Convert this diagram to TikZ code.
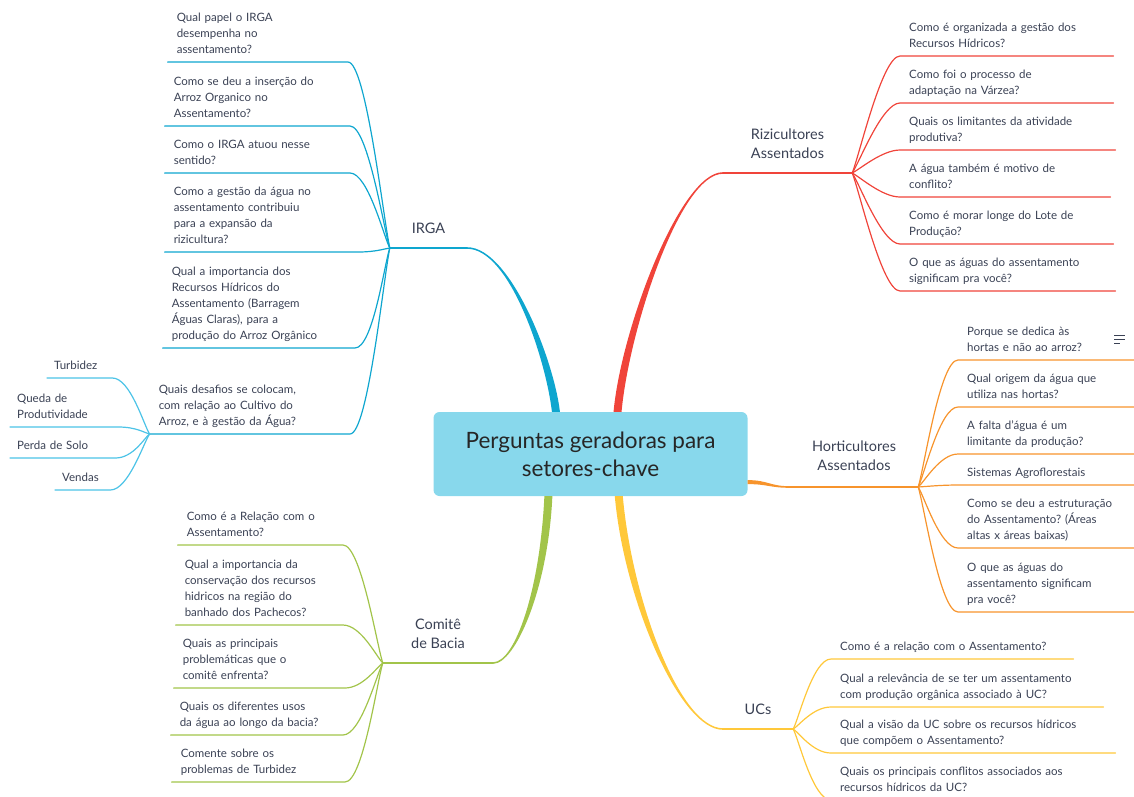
\documentclass[tikz,border=0pt]{standalone}
\usepackage{fontspec}
\setmainfont{Lato}
\usepackage{xcolor}
\usepackage{tikz}
\usetikzlibrary{calc}
\frenchspacing

\definecolor{rootfill}{HTML}{88D8EC}
\definecolor{inktext}{HTML}{3A4154}
\definecolor{cblue}{HTML}{0EA6CF}
\definecolor{clight}{HTML}{4CC3E7}
\definecolor{cred}{HTML}{F0443A}
\definecolor{corange}{HTML}{F7942C}
\definecolor{cyellow}{HTML}{FFC83A}
\definecolor{cgreen}{HTML}{A2C44A}

% tapered main branch: colour, start, control 1, control 2, end, end offset
\newcommand{\trunk}[6]{%
  \fill[#1] ($(#2)+(-4,0)$) .. controls ($(#3)+(-4,0)$) and ($(#4)+(0,#6)$) .. ($(#5)+(0,#6)$)
    -- ($(#5)+(0,{-1*(#6)})$) .. controls ($(#4)+(0,{-1*(#6)})$) and ($(#3)+(4,0)$) .. ($(#2)+(4,0)$) -- cycle;}

\tikzset{
  rootbox/.style={fill=rootfill, rounded corners=6pt, minimum width=314pt, minimum height=84pt,
    align=center, text=black!85, font=\fontsize{22.5}{28}\selectfont},
  topic/.style={anchor=south, align=center, inner ysep=11pt, text depth=3pt, text=inktext,
    font=\fontsize{14.5}{19.5}\selectfont},
  quest/.style={anchor=south west, align=left, inner xsep=9pt, inner ysep=3.7pt,
    text width=#1, text=inktext, font=\fontsize{11.5}{16}\selectfont, execute at end node=\strut},
  questl/.style={quest=#1, anchor=south east},
  sub/.style={quest=#1, inner xsep=7pt},
  twig/.style={line width=1.2pt, line cap=round},
  fanr/.style={to path={.. controls ($(\tikztostart)!0.15!(\tikztotarget)$) and ([xshift=-18pt]\tikztotarget) .. (\tikztotarget) \tikztonodes}},
  fanl/.style={to path={.. controls ($(\tikztostart)!0.15!(\tikztotarget)$) and ([xshift=18pt]\tikztotarget) .. (\tikztotarget) \tikztonodes}}
}

\begin{document}
\begin{tikzpicture}[x=1pt, y=-1pt]
    \useasboundingbox (0,0) rectangle (1134,796);
    \clip (0,0) rectangle (1134,796);

    \node (root) at (590.5,454) [rootbox] {Perguntas geradoras para\\setores-chave};

    % topics
    \node (irga) at (428.5,248) [topic, minimum width=77pt] {IRGA};
    \node (riz) at (792.5,173) [topic, minimum width=129pt, xshift=-5pt] {Rizicultores\\Assentados};
    \node (hort) at (854,487) [topic, minimum width=128pt, inner ysep=13pt] {Horticultores\\Assentados};
    \node (ucs) at (758,729) [topic, minimum width=70pt] {UCs};
    \node (comite) at (438,663) [topic, minimum width=110pt] {Comitê\\de Bacia};

    % IRGA
    \node (b1) at (348,62) [questl=162pt] {Qual papel o IRGA\\desempenha no\\assentamento?};
    \node (b2) at (350,126) [questl=167pt] {Como se deu a inserção do\\Arroz Organico no\\Assentamento?};
    \node (b3) at (350,173) [questl=167pt] {Como o IRGA atuou nesse\\sentido?};
    \node (b4) at (358,252) [questl=175pt] {Como a gestão da água no\\assentamento contribuiu\\para a expansão da\\rizicultura?};
    \node (b5) at (355,348) [questl=174pt] {Qual a importancia dos\\Recursos Hídricos do\\Assentamento (Barragem\\Águas Claras), para a\\produção do Arroz Orgânico};
    \node (b6) at (350,434) [questl=182pt] {Quais desafios se colocam,\\com relação ao Cultivo do\\Arroz, e à gestão da Água?};
    \node (s1) at (47,378) [sub=51pt] {Turbidez};
    \node (s2) at (10,427) [sub=94pt] {Queda de\\Produtividade};
    \node (s3) at (10,458) [sub=91pt] {Perda de Solo};
    \node (s4) at (55,490) [sub=41pt] {Vendas};

    % Rizicultores
    \node (r1) at (900,56) [quest=195pt] {Como é organizada a gestão dos\\Recursos Hídricos?};
    \node (r2) at (900,103) [quest=195pt] {Como foi o processo de\\adaptação na Várzea?};
    \node (r3) at (900,150) [quest=197pt] {Quais os limitantes da atividade\\produtiva?};
    \node (r4) at (900,197) [quest=192pt] {A água também é motivo de\\conflito?};
    \node (r5) at (900,244) [quest=195pt] {Como é morar longe do Lote de\\Produção?};
    \node (r6) at (900,291) [quest=197pt] {O que as águas do assentamento\\significam pra você?};

    % Horticultores
    \node (o1) at (958,360) [quest=170pt] {Porque se dedica às\\hortas e não ao arroz?};
    \node (o2) at (958,407) [quest=170pt] {Qual origem da água que\\utiliza nas hortas?};
    \node (o3) at (958,454) [quest=170pt] {A falta d'água é um\\limitante da produção?};
    \node (o4) at (958,485) [quest=170pt] {Sistemas Agroflorestais};
    \node (o5) at (958,548) [quest=170pt] {Como se deu a estruturação\\do Assentamento? (Áreas\\altas x áreas baixas)};
    \node (o6) at (958,612) [quest=170pt] {O que as águas do\\assentamento significam\\pra você?};

    % UCs
    \node (u1) at (831,659) [quest=224pt] {Como é a relação com o Assentamento?};
    \node (u2) at (831,707) [quest=254pt] {Qual a relevância de se ter um assentamento\\com produção orgânica associado à UC?};
    \node (u3) at (831,753) [quest=266pt] {Qual a visão da UC sobre os recursos hídricos\\que compõem o Assentamento?};
    \node (u4) at (831,800) [quest=256pt] {Quais os principais conflitos associados aos\\recursos hídricos da UC?};

    % Comite de Bacia
    \node (g1) at (343,545) [questl=147pt] {Como é a Relação com o\\Assentamento?};
    \node (g2) at (343,625) [questl=149pt] {Qual a importancia da\\conservação dos recursos\\hidricos na região do\\banhado dos Pachecos?};
    \node (g3) at (345,688) [questl=153pt] {Quais as principais\\problemáticas que o\\comitê enfrenta?};
    \node (g4) at (343,735) [questl=154pt] {Quais os diferentes usos\\da água ao longo da bacia?};
    \node (g5) at (345,782) [questl=155pt] {Comente sobre os\\problemas de Turbidez};

    % main branches
    \coordinate (bstart) at ($(root.north west)!0.39!(root.north east)$);
    \coordinate (rstart) at ($(root.north west)!0.586!(root.north east)$);
    \coordinate (gstart) at ($(root.south west)!0.366!(root.south east)$);
    \coordinate (ystart) at ($(root.south west)!0.59!(root.south east)$);
    \coordinate (ostart) at ($(root.south east)!0.167!(root.north east)$);
    \trunk{cblue}{bstart}{550,360}{510,248}{irga.south east}{0.8}
    \trunk{cred}{rstart}{625,330}{680,173}{riz.south west}{-0.8}
    \trunk{cgreen}{gstart}{544,590}{515,663}{comite.south east}{-0.8}
    \trunk{cyellow}{ystart}{628,600}{680,729}{ucs.south west}{0.8}
    \fill[corange] ($(ostart)+(0,-2)$) .. controls ($(ostart)+(20,-2)$) and ($(hort.south west)+(-20,-0.8)$) .. ($(hort.south west)+(0,-0.8)$)
        -- ($(hort.south west)+(0,0.8)$) .. controls ($(hort.south west)+(-20,0.8)$) and ($(ostart)+(20,2)$) .. ($(ostart)+(0,2)$) -- cycle;
    \draw [cblue, line width=1.6pt] (irga.south west) -- (irga.south east);
    \draw [cred, line width=1.6pt] (riz.south west) -- (riz.south east);
    \draw [corange, line width=1.6pt] (hort.south west) -- (hort.south east);
    \draw [cyellow, line width=1.6pt] (ucs.south west) -- (ucs.south east);
    \draw [cgreen, line width=1.6pt] (comite.south west) -- (comite.south east);

    % twigs
    \draw [twig, cblue] (irga.south west) to[fanl] (b1.south east) -- (b1.south west);
    \draw [twig, cblue] (irga.south west) to[fanl] (b2.south east) -- (b2.south west);
    \draw [twig, cblue] (irga.south west) to[fanl] (b3.south east) -- (b3.south west);
    \draw [twig, cblue] (irga.south west) to[fanl] (b4.south east) -- (b4.south west);
    \draw [twig, cblue] (irga.south west) to[fanl] (b5.south east) -- (b5.south west);
    \draw [twig, cblue] (irga.south west) to[fanl] (b6.south east) -- (b6.south west);
    \draw [twig, clight] (b6.south west) to[fanl] (s1.south east) -- (s1.south west);
    \draw [twig, clight] (b6.south west) to[fanl] (s2.south east) -- (s2.south west);
    \draw [twig, clight] (b6.south west) to[fanl] (s3.south east) -- (s3.south west);
    \draw [twig, clight] (b6.south west) to[fanl] (s4.south east) -- (s4.south west);

    \draw [twig, cred] (riz.south east) to[fanr] (r1.south west) -- (r1.south east);
    \draw [twig, cred] (riz.south east) to[fanr] (r2.south west) -- (r2.south east);
    \draw [twig, cred] (riz.south east) to[fanr] (r3.south west) -- (r3.south east);
    \draw [twig, cred] (riz.south east) to[fanr] (r4.south west) -- (r4.south east);
    \draw [twig, cred] (riz.south east) to[fanr] (r5.south west) -- (r5.south east);
    \draw [twig, cred] (riz.south east) to[fanr] (r6.south west) -- (r6.south east);

    \draw [twig, corange] (hort.south east) to[fanr] (o1.south west) -- (o1.south east);
    \draw [twig, corange] (hort.south east) to[fanr] (o2.south west) -- (o2.south east);
    \draw [twig, corange] (hort.south east) to[fanr] (o3.south west) -- (o3.south east);
    \draw [twig, corange] (hort.south east) to[fanr] (o4.south west) -- (o4.south east);
    \draw [twig, corange] (hort.south east) to[fanr] (o5.south west) -- (o5.south east);
    \draw [twig, corange] (hort.south east) to[fanr] (o6.south west) -- (o6.south east);

    \draw [twig, cyellow] (ucs.south east) to[fanr] (u1.south west) -- (u1.south east);
    \draw [twig, cyellow] (ucs.south east) to[fanr] (u2.south west) -- (u2.south east);
    \draw [twig, cyellow] (ucs.south east) to[fanr] (u3.south west) -- (u3.south east);
    \draw [twig, cyellow] (ucs.south east) to[fanr] (u4.south west) -- (u4.south east);

    \draw [twig, cgreen] (comite.south west) to[fanl] (g1.south east) -- (g1.south west);
    \draw [twig, cgreen] (comite.south west) to[fanl] (g2.south east) -- (g2.south west);
    \draw [twig, cgreen] (comite.south west) to[fanl] (g3.south east) -- (g3.south west);
    \draw [twig, cgreen] (comite.south west) to[fanl] (g4.south east) -- (g4.south west);
    \draw [twig, cgreen] (comite.south west) to[fanl] (g5.south east) -- (g5.south west);

    % note icon
    \draw [inktext, line width=1pt] (1114,335) -- (1125,335) (1114,339) -- (1125,339) (1114,343) -- (1120,343);
\end{tikzpicture}
\end{document}
